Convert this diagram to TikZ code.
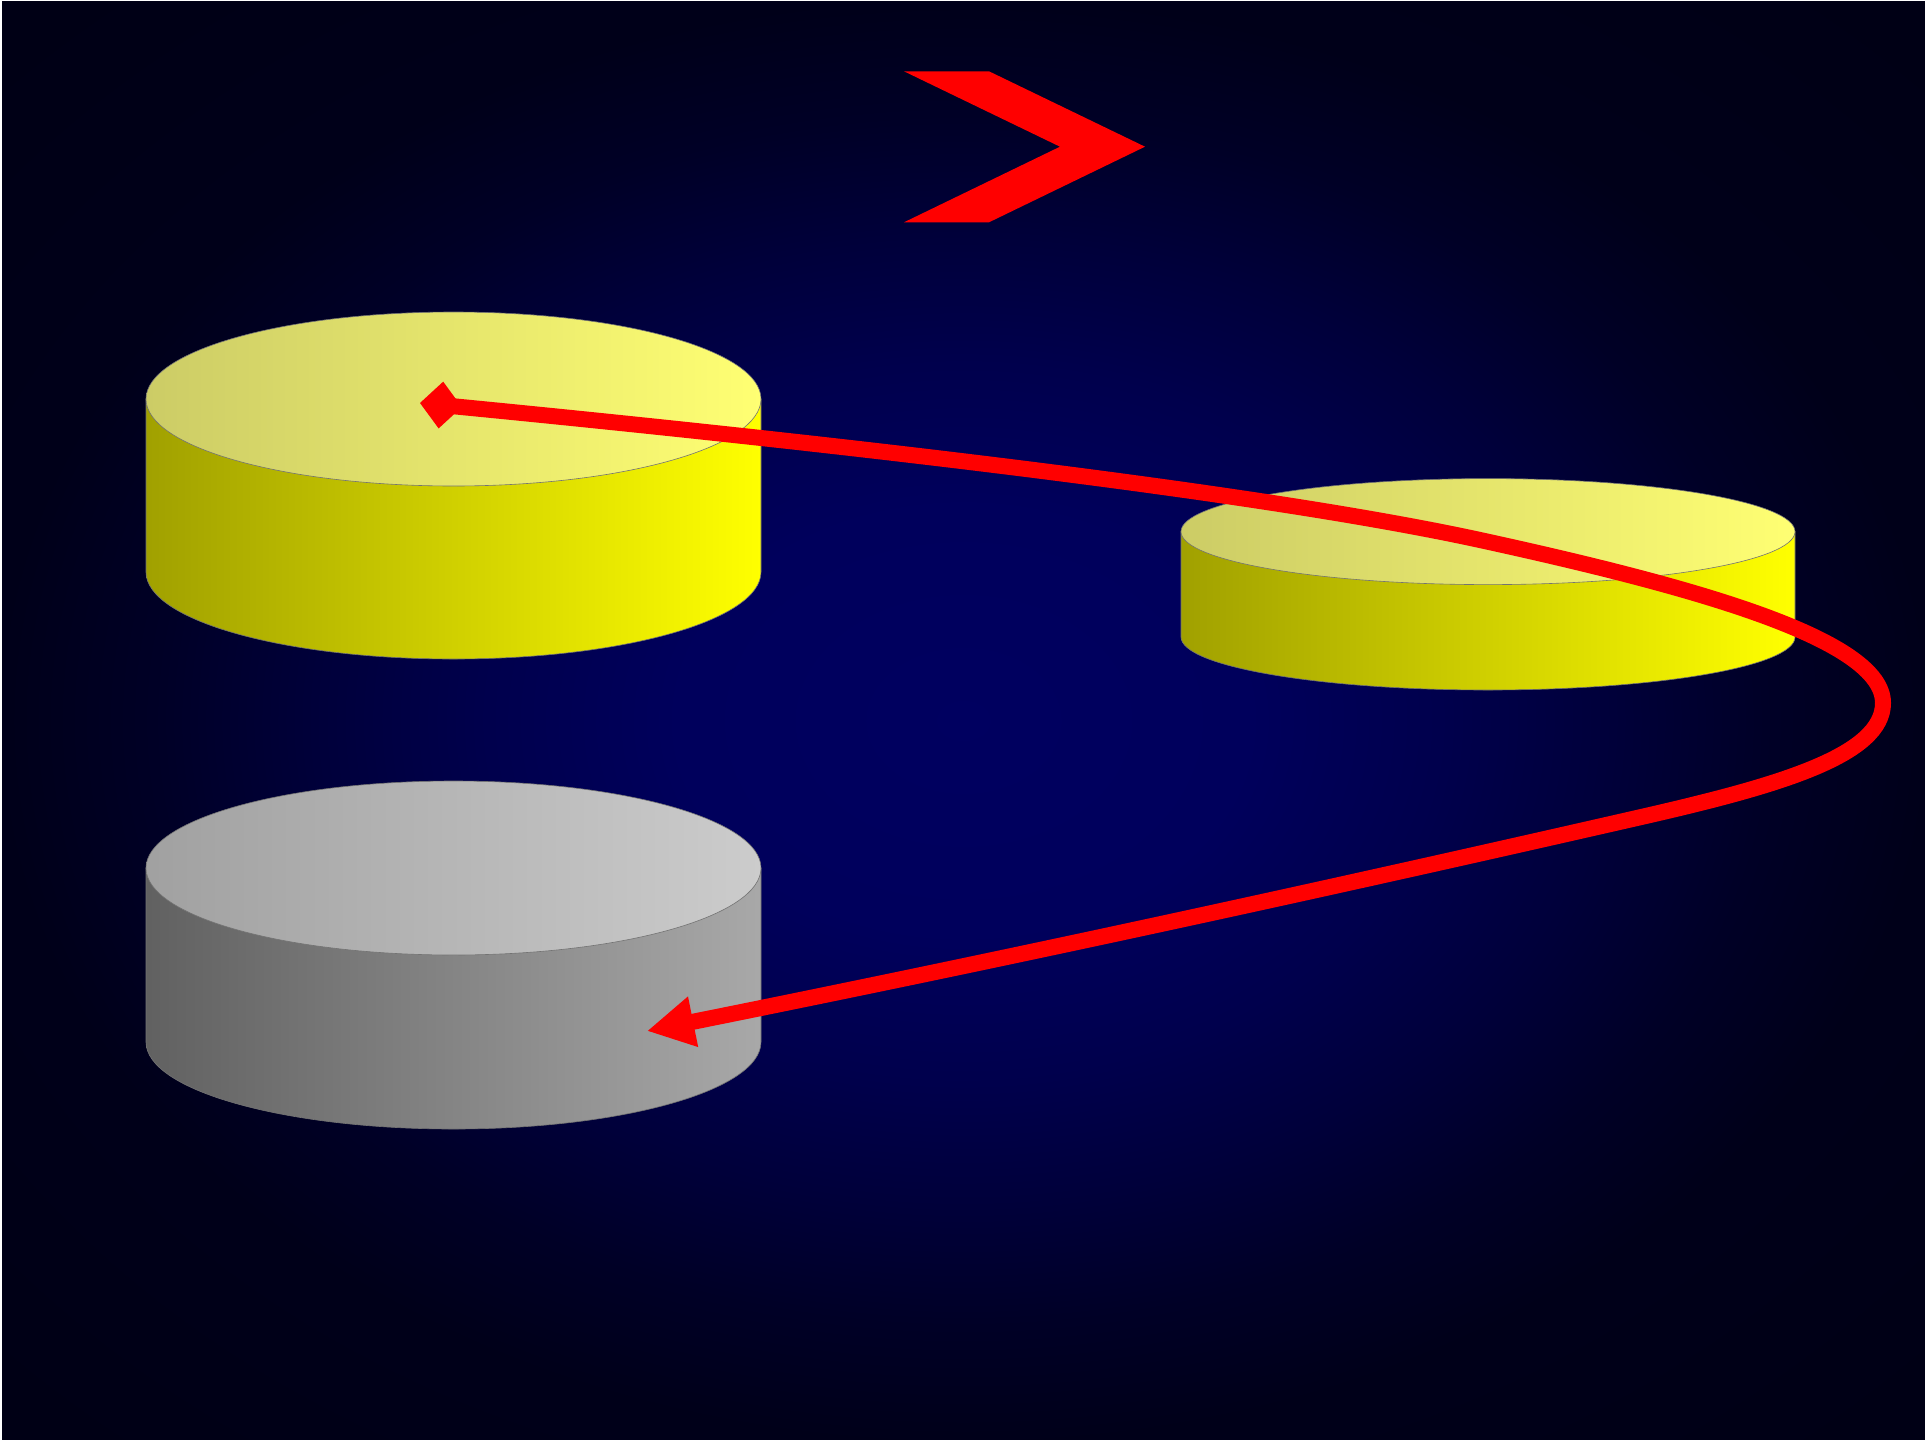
\documentclass[tikz,border=0pt]{standalone}
\usetikzlibrary{arrows.meta}
\pgfdeclareradialshading{bgshade}{\pgfpoint{0bp}{0bp}}{rgb(0bp)=(0,0,0.376); rgb(7.5bp)=(0,0,0.36); rgb(12.5bp)=(0,0,0.30); rgb(16.75bp)=(0,0,0.23); rgb(21bp)=(0,0,0.15); rgb(25bp)=(0,0,0.10); rgb(35.4bp)=(0,0,0.08); rgb(50bp)=(0,0,0.08)}
\pgfdeclarehorizontalshading{ytop}{100bp}{rgb(0bp)=(0.8,0.8,0.4); rgb(25bp)=(0.8,0.8,0.4); rgb(75bp)=(1,1,0.45); rgb(100bp)=(1,1,0.45)}
\pgfdeclarehorizontalshading{yside}{100bp}{rgb(0bp)=(0.63,0.63,0); rgb(25bp)=(0.63,0.63,0); rgb(75bp)=(1,1,0); rgb(100bp)=(1,1,0)}
\pgfdeclarehorizontalshading{gtop}{100bp}{rgb(0bp)=(0.63,0.63,0.63); rgb(25bp)=(0.63,0.63,0.63); rgb(75bp)=(0.8,0.8,0.8); rgb(100bp)=(0.8,0.8,0.8)}
\pgfdeclarehorizontalshading{gside}{100bp}{rgb(0bp)=(0.38,0.38,0.38); rgb(25bp)=(0.38,0.38,0.38); rgb(75bp)=(0.66,0.66,0.66); rgb(100bp)=(0.66,0.66,0.66)}
\definecolor{arrowred}{RGB}{255,0,0}
\tikzset{
  cylline/.style={draw=black!55, line width=0.6pt},
  flowline/.style={draw=arrowred, line width=16pt,
    {Diamond[length=42pt,width=47pt]}-{Triangle[length=47pt,width=48pt]}},
  chevronshape/.style={fill=arrowred, draw=none}
}
% #1 cx, #2 top cy, #3 bottom cy, #4 rx, #5 ry, #6 top shading, #7 side shading
\newcommand{\mydrum}[7]{%
  \shadedraw[shading=#7, cylline] (#1-#4,#2) -- (#1-#4,#3)
     arc[start angle=180, end angle=360, x radius=#4pt, y radius=#5pt]
     -- (#1+#4,#2) -- cycle;
  \shadedraw[shading=#6, cylline] (#1,#2) ellipse[x radius=#4pt, y radius=#5pt];
}
\begin{document}
\begin{tikzpicture}[x=1pt,y=-1pt]
\useasboundingbox (0,0) rectangle (1925,1440);
\fill[white] (0,0) rectangle (1925,1440);
\shade[shading=bgshade] (2,1) rectangle (1925,1440);
% drums
\mydrum{453.5}{399}{572}{307.5}{87}{ytop}{yside}
\mydrum{453.5}{868}{1042}{307.5}{87}{gtop}{gside}
\mydrum{1488}{531.6}{637}{307}{53}{ytop}{yside}
% chevron
\fill[chevronshape] (904,71.3) -- (989,71.3) -- (1145,146.7) -- (989,222.3) -- (904,222.3) -- (1060,146.7) -- cycle;
% connector
\coordinate (src) at (420,403);
\coordinate (dst) at (647,1031);
\draw[flowline] (src) .. controls (800,440) and (1250,490) .. (1480,540)
  .. controls (1700,588) and (1883,640) .. (1883,703)
  .. controls (1883,755) and (1780,785) .. (1650,815)
  .. controls (1300,895) and (1000,960) .. (dst);
\end{tikzpicture}
\end{document}
